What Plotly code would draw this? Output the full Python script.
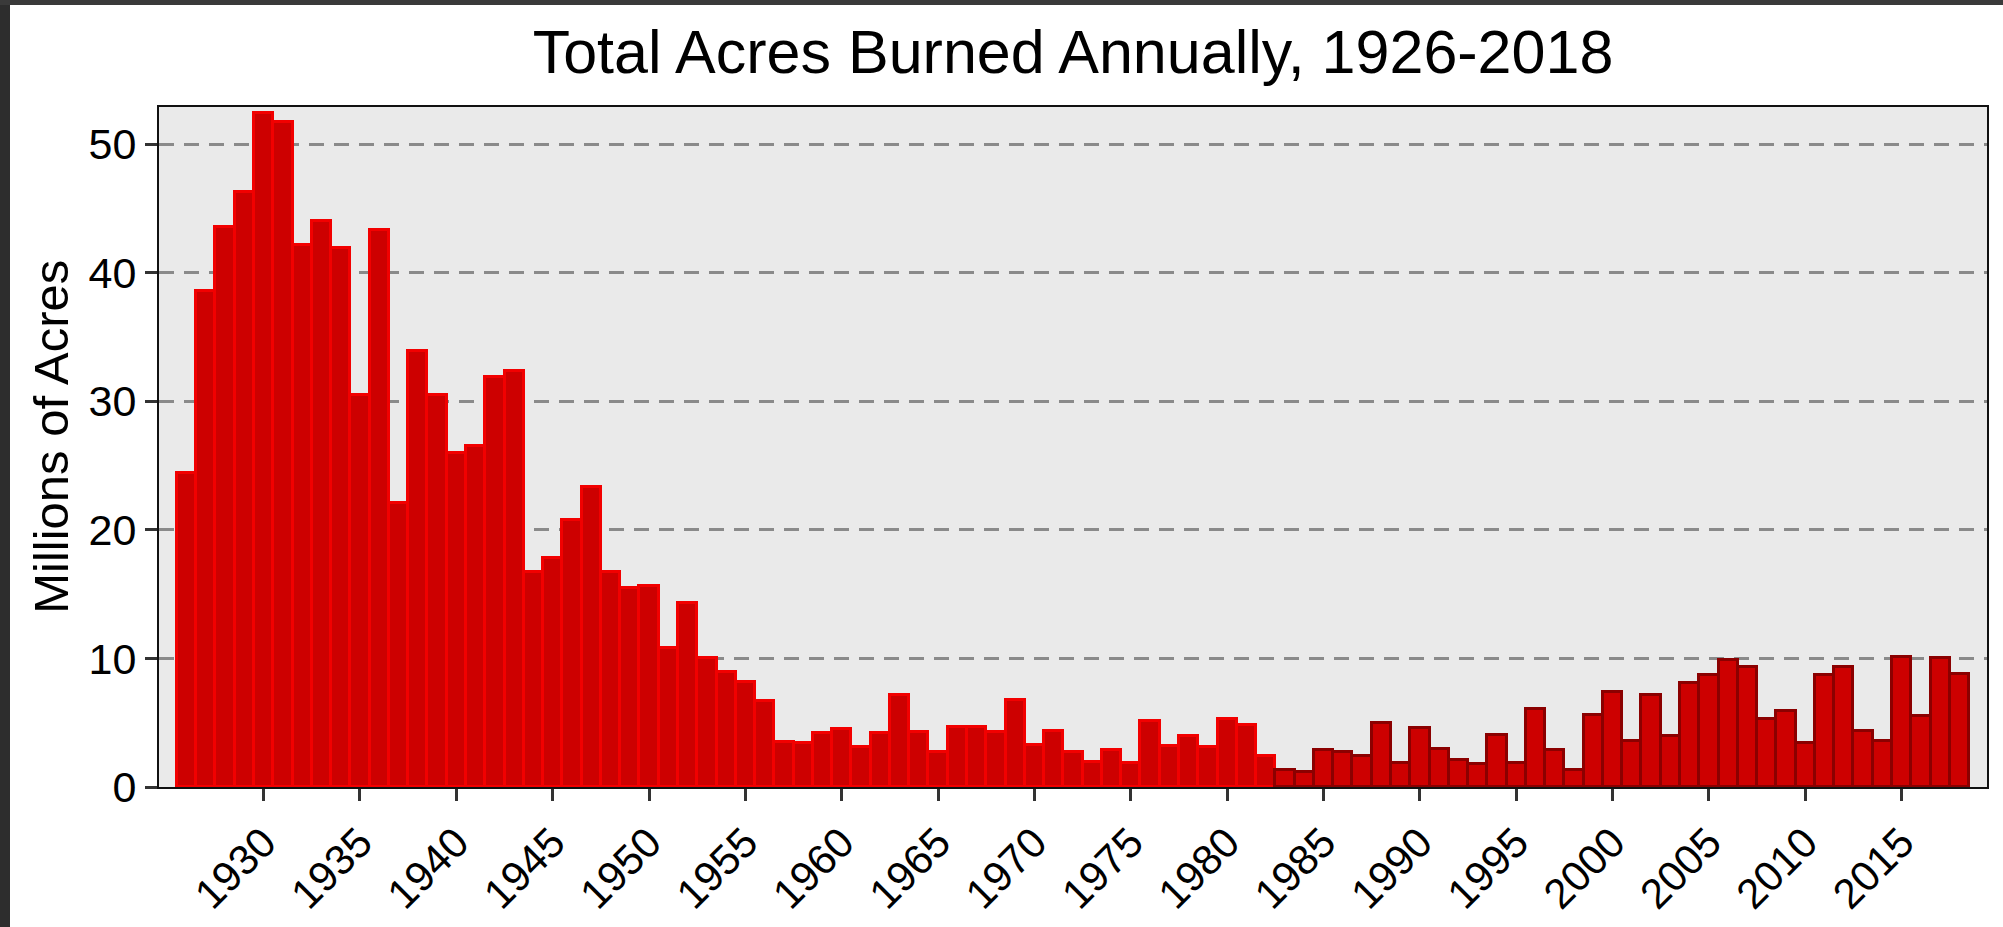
import plotly.graph_objects as go

years = list(range(1926, 2019))
acres_millions = [
    24.45, 38.6, 43.6, 46.3, 52.4, 51.7, 42.2, 44.0, 41.9, 30.5,   # 1926-1935
    43.3, 22.1, 33.9, 30.5, 26.0, 26.5, 31.9, 32.4, 16.7, 17.8,    # 1936-1945
    20.8, 23.3, 16.7, 15.5, 15.6, 10.8, 14.3, 10.0, 8.95, 8.2,     # 1946-1955
    6.7, 3.5, 3.4, 4.2, 4.55, 3.1, 4.2, 7.15, 4.25, 2.75,          # 1956-1965
    4.65, 4.7, 4.25, 6.75, 3.3, 4.35, 2.7, 1.95, 2.9, 1.85,        # 1966-1975
    5.1, 3.2, 3.95, 3.1, 5.3, 4.85, 2.4, 1.32, 1.15, 2.9,          # 1976-1985
    2.72, 2.45, 5.01, 1.83, 4.62, 2.95, 2.07, 1.8, 4.07, 1.84,     # 1986-1995
    6.07, 2.86, 1.33, 5.63, 7.39, 3.57, 7.18, 3.96, 8.1, 8.69,     # 1996-2005
    9.87, 9.33, 5.29, 5.92, 3.42, 8.71, 9.33, 4.32, 3.6, 10.13,    # 2006-2015
    5.51, 10.03, 8.77,                                             # 2016-2018
]
x_tick_years = list(range(1930, 2016, 5))
x_tick_labels = [str(y) for y in x_tick_years]
y_tick_values = [0, 10, 20, 30, 40, 50]
y_tick_labels = [str(v) for v in y_tick_values]
split_year = 1983  # outline colour changes from this year on

FILL = "#CD0000"
EDGE_EARLY = "#F20000"
EDGE_LATE = "#8B0000"
edge_colors = [EDGE_EARLY if y < split_year else EDGE_LATE for y in years]

W, H = 2003, 927
ML, MR, MT, MB = 159, 16, 107, 140
PW, PH = W - ML - MR, H - MT - MB

fig = go.Figure()
fig.add_trace(go.Bar(
    x=years, y=acres_millions, width=1.0,
    marker=dict(color=FILL, line=dict(color=edge_colors, width=3)),
    showlegend=False, hoverinfo="x+y",
))

FONT = "Liberation Sans, Arial, sans-serif"

def px_x(p):
    return (p - ML) / PW

def px_y(p):
    return (H - MB - p) / PH

# dark screenshot frame (top and left strips)
shapes = [
    dict(type="rect", xref="paper", yref="paper", x0=px_x(0), x1=px_x(10),
         y0=px_y(H), y1=px_y(0), fillcolor="#2d2d2d", line=dict(width=0), layer="above"),
    dict(type="rect", xref="paper", yref="paper", x0=px_x(0), x1=px_x(W),
         y0=px_y(5), y1=px_y(0), fillcolor="#3a3a3a", line=dict(width=0), layer="above"),
]

fig.update_layout(
    width=W, height=H,
    margin=dict(l=ML, r=MR, t=MT, b=MB, pad=0, autoexpand=False),
    paper_bgcolor="white", plot_bgcolor="#EAEAEA",
    bargap=0,
    font=dict(family=FONT, color="black"),
    title=dict(text="Total Acres Burned Annually, 1926-2018",
               font=dict(family=FONT, size=61, color="black"),
               x=0.5, xref="paper", xanchor="center",
               y=1 - 52 / H, yref="container", yanchor="middle"),
    shapes=shapes,
    annotations=[dict(text="Millions of Acres", textangle=-90,
                      xref="paper", yref="paper", x=px_x(51), y=0.515,
                      xanchor="center", yanchor="middle", showarrow=False,
                      font=dict(family=FONT, size=49, color="black"))],
)
fig.update_xaxes(
    range=[1924.57, 2019.43], tickmode="array", automargin=False,
    tickvals=x_tick_years, ticktext=x_tick_labels, tickangle=-45,
    ticks="outside", ticklen=12, tickwidth=2.5, tickcolor="#333333",
    tickfont=dict(family=FONT, size=42, color="black"),
    showgrid=False, zeroline=False,
    showline=True, linecolor="#111111", linewidth=2, mirror=True,
)
fig.update_yaxes(
    range=[0, 52.9], tickmode="array", automargin=False,
    tickvals=y_tick_values, ticktext=y_tick_labels,
    ticks="outside", ticklen=12, tickwidth=2.5, tickcolor="#333333",
    tickfont=dict(family=FONT, size=43, color="black"),
    showgrid=True, gridcolor="#8A8A8A", gridwidth=2.5, griddash="15px,10px",
    zeroline=False,
    showline=True, linecolor="#111111", linewidth=2, mirror=True,
)

fig.write_html("out.html", config={"displayModeBar": False},
               post_script="document.body.style.margin='0';document.body.style.overflow='hidden';")
